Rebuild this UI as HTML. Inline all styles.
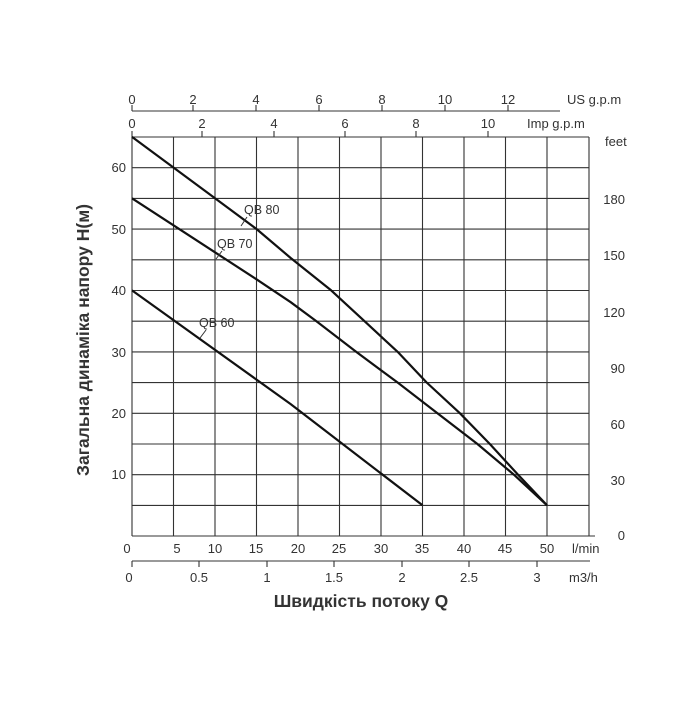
<!DOCTYPE html>
<html><head><meta charset="utf-8"><style>
body{margin:0;background:#fff;}
text{font-family:"Liberation Sans",sans-serif;fill:#333;}
</style></head><body>
<svg width="700" height="700" viewBox="0 0 700 700">
<rect width="700" height="700" fill="#fff"/>
<g stroke="#333" stroke-width="1.1">
<line x1="132" y1="137" x2="132" y2="536"/><line x1="173.5" y1="137" x2="173.5" y2="536"/><line x1="215" y1="137" x2="215" y2="536"/><line x1="256.5" y1="137" x2="256.5" y2="536"/><line x1="298" y1="137" x2="298" y2="536"/><line x1="339.5" y1="137" x2="339.5" y2="536"/><line x1="381" y1="137" x2="381" y2="536"/><line x1="422.5" y1="137" x2="422.5" y2="536"/><line x1="464" y1="137" x2="464" y2="536"/><line x1="505.5" y1="137" x2="505.5" y2="536"/><line x1="547" y1="137" x2="547" y2="536"/><line x1="589" y1="137" x2="589" y2="536"/>
<line x1="132" y1="137" x2="589" y2="137"/><line x1="132" y1="167.7" x2="589" y2="167.7"/><line x1="132" y1="198.4" x2="589" y2="198.4"/><line x1="132" y1="229.1" x2="589" y2="229.1"/><line x1="132" y1="259.8" x2="589" y2="259.8"/><line x1="132" y1="290.5" x2="589" y2="290.5"/><line x1="132" y1="321.2" x2="589" y2="321.2"/><line x1="132" y1="351.9" x2="589" y2="351.9"/><line x1="132" y1="382.6" x2="589" y2="382.6"/><line x1="132" y1="413.3" x2="589" y2="413.3"/><line x1="132" y1="444" x2="589" y2="444"/><line x1="132" y1="474.7" x2="589" y2="474.7"/><line x1="132" y1="505.4" x2="589" y2="505.4"/><line x1="132" y1="536" x2="595" y2="536"/>
<line x1="132" y1="111" x2="560" y2="111"/>
<line x1="132" y1="111" x2="132" y2="105"/><line x1="193" y1="111" x2="193" y2="105"/><line x1="256" y1="111" x2="256" y2="105"/><line x1="319" y1="111" x2="319" y2="105"/><line x1="382" y1="111" x2="382" y2="105"/><line x1="445" y1="111" x2="445" y2="105"/><line x1="508" y1="111" x2="508" y2="105"/>
<line x1="132" y1="137" x2="132" y2="131"/><line x1="202" y1="137" x2="202" y2="131"/><line x1="274" y1="137" x2="274" y2="131"/><line x1="345" y1="137" x2="345" y2="131"/><line x1="416" y1="137" x2="416" y2="131"/><line x1="488" y1="137" x2="488" y2="131"/>
<line x1="132" y1="561" x2="590" y2="561"/>
<line x1="132" y1="561" x2="132" y2="567"/><line x1="199" y1="561" x2="199" y2="567"/><line x1="267" y1="561" x2="267" y2="567"/><line x1="334" y1="561" x2="334" y2="567"/><line x1="402" y1="561" x2="402" y2="567"/><line x1="469" y1="561" x2="469" y2="567"/><line x1="537" y1="561" x2="537" y2="567"/>
</g>
<g transform="translate(132,536) scale(8.3,-6.14)" fill="none" stroke="#111" stroke-width="2.2" stroke-linejoin="round">
<polyline vector-effect="non-scaling-stroke" points="0,65 10,55 15,50 19.1,45.3 24,40 28,35 32,30 35.5,25 39.5,20 43.1,15 46.5,10 50,5"/>
<polyline vector-effect="non-scaling-stroke" points="0,55 10,46.2 15,41.8 19.1,38.1 22.2,35 27,30 32,25 36.8,20 41.6,15 46,10 50,5"/>
<polyline vector-effect="non-scaling-stroke" points="0,40 19.1,21.5 35,5"/>
</g>
<g stroke="#333" stroke-width="1">
<line x1="247" y1="217" x2="241" y2="226"/>
<line x1="222" y1="251" x2="216" y2="259"/>
<line x1="206" y1="330" x2="200" y2="338"/>
</g>
<g font-size="12.5">
<text x="244" y="214">QB 80</text>
<text x="217" y="248">QB 70</text>
<text x="199" y="327">QB 60</text>
</g>
<g font-size="13" text-anchor="middle">
<text x="132" y="104">0</text><text x="193" y="104">2</text><text x="256" y="104">4</text><text x="319" y="104">6</text><text x="382" y="104">8</text><text x="445" y="104">10</text><text x="508" y="104">12</text>
<text x="132" y="128">0</text><text x="202" y="128">2</text><text x="274" y="128">4</text><text x="345" y="128">6</text><text x="416" y="128">8</text><text x="488" y="128">10</text>
<text x="127" y="553">0</text><text x="177" y="553">5</text><text x="215" y="553">10</text><text x="256" y="553">15</text><text x="298" y="553">20</text><text x="339" y="553">25</text><text x="381" y="553">30</text><text x="422" y="553">35</text><text x="464" y="553">40</text><text x="505" y="553">45</text><text x="547" y="553">50</text>
<text x="129" y="582">0</text><text x="199" y="582">0.5</text><text x="267" y="582">1</text><text x="334" y="582">1.5</text><text x="402" y="582">2</text><text x="469" y="582">2.5</text><text x="537" y="582">3</text>
</g>
<g font-size="13" text-anchor="start">
<text x="567" y="104">US g.p.m</text>
<text x="527" y="128">Imp g.p.m</text>
<text x="605" y="146">feet</text>
<text x="572" y="553">l/min</text>
<text x="569" y="582">m3/h</text>
</g>
<g font-size="13" text-anchor="end">
<text x="126" y="172">60</text><text x="126" y="234">50</text><text x="126" y="295">40</text><text x="126" y="357">30</text><text x="126" y="418">20</text><text x="126" y="479">10</text>
<text x="625" y="204">180</text><text x="625" y="260">150</text><text x="625" y="317">120</text><text x="625" y="373">90</text><text x="625" y="429">60</text><text x="625" y="485">30</text><text x="625" y="540">0</text>
</g>
<text x="361" y="607" font-size="17.5" font-weight="bold" text-anchor="middle" fill="#222">Швидкість потоку Q</text>
<text transform="translate(89,340) rotate(-90)" font-size="17.5" font-weight="bold" text-anchor="middle" fill="#222">Загальна динаміка напору H(м)</text>
</svg>
</body></html>
